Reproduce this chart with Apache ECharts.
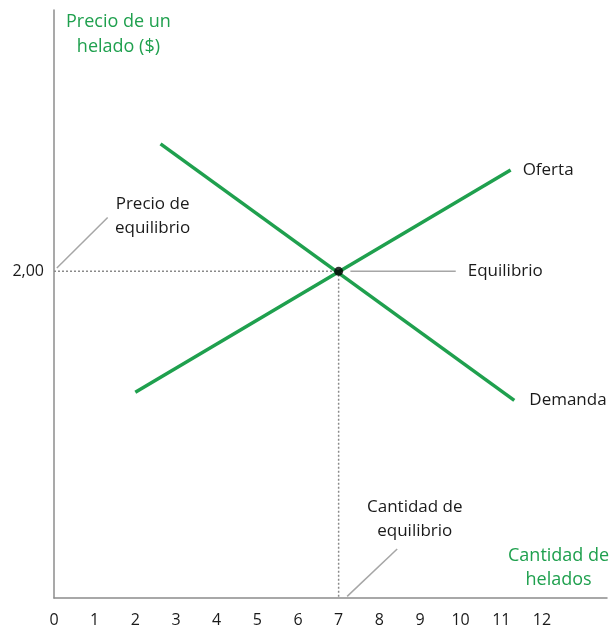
<!DOCTYPE html>
<html>
<head>
<meta charset="utf-8">
<script src="https://cdn.jsdelivr.net/npm/echarts@6/dist/echarts.min.js"></script>
<style>
  html, body { margin: 0; padding: 0; background: #fff; }
  #container { width: 610px; height: 629px; }
</style>
</head>
<body>
<div id="container"></div>
<script>
var dom = document.getElementById("container");
var myChart = echarts.init(dom);

// datos
var xTicks = [0, 1, 2, 3, 4, 5, 6, 7, 8, 9, 10, 11, 12];
var oferta = [[2.0, 1.26], [11.23, 2.62]];
var demanda = [[2.62, 2.78], [11.32, 1.21]];
var equilibrio = [7, 2];
var precioLabel = "2,00";

// líneas guía de las anotaciones
var guiaPrecio = [[0.07, 2.02], [1.32, 2.33]];
var guiaEquilibrio = [[7.29, 2], [9.88, 2]];
var guiaCantidad = [[7.21, 0.01], [8.44, 0.3]];

var verde = "#1fa04e";
var gris = "#a6a6a6";
var fuente = "Open Sans";

var option = {
  animation: false,
  grid: { left: 54, right: 0, top: 10, bottom: 31 },
  xAxis: {
    type: "value",
    min: 0,
    max: 13.6,
    interval: 1,
    splitLine: { show: false },
    axisTick: { show: false },
    axisLine: { lineStyle: { color: "#8c8c8c", width: 1.5 } },
    axisLabel: {
      color: "#1a1a1a",
      fontFamily: fuente,
      fontSize: 16,
      margin: 14,
      formatter: function (v) {
        return xTicks.indexOf(v) >= 0 ? String(v) : "";
      }
    }
  },
  yAxis: {
    type: "value",
    min: 0,
    max: 3.6,
    interval: 1,
    splitLine: { show: false },
    axisTick: { show: false },
    axisLine: { show: true, lineStyle: { color: "#8c8c8c", width: 1.5 } },
    axisLabel: {
      color: "#1a1a1a",
      fontFamily: fuente,
      fontSize: 16,
      margin: 10,
      formatter: function (v) {
        return v === equilibrio[1] ? precioLabel : "";
      }
    }
  },
  series: [
    {
      name: "punteada",
      type: "line",
      data: [[0, equilibrio[1]], equilibrio, [equilibrio[0], 0]],
      symbol: "none",
      lineStyle: { color: "#8a8a8a", width: 1.5, type: [2, 2] },
      z: 1
    },
    {
      name: "Oferta",
      type: "line",
      data: oferta,
      symbol: "none",
      lineStyle: { color: verde, width: 3.5 },
      endLabel: {
        show: true,
        formatter: "Oferta",
        color: "#1a1a1a",
        fontFamily: fuente,
        fontSize: 17,
        distance: 12
      },
      z: 3
    },
    {
      name: "Demanda",
      type: "line",
      data: demanda,
      symbol: "none",
      lineStyle: { color: verde, width: 3.5 },
      endLabel: {
        show: true,
        formatter: "Demanda",
        color: "#1a1a1a",
        fontFamily: fuente,
        fontSize: 17,
        distance: 15
      },
      z: 3
    },
    {
      name: "guiaPrecio",
      type: "line",
      data: guiaPrecio,
      symbol: "none",
      lineStyle: { color: gris, width: 1.5 }
    },
    {
      name: "guiaEquilibrio",
      type: "line",
      data: guiaEquilibrio,
      symbol: "none",
      lineStyle: { color: gris, width: 1.5 },
      endLabel: {
        show: true,
        formatter: "Equilibrio",
        color: "#1a1a1a",
        fontFamily: fuente,
        fontSize: 17,
        distance: 12
      }
    },
    {
      name: "guiaCantidad",
      type: "line",
      data: guiaCantidad,
      symbol: "none",
      lineStyle: { color: gris, width: 1.5 }
    },
    {
      name: "punto",
      type: "scatter",
      data: [equilibrio],
      symbolSize: 9,
      itemStyle: { color: "#000" },
      z: 5
    }
  ],
  graphic: [
    {
      type: "text",
      left: 66,
      top: 9,
      style: {
        text: "Precio de un\nhelado ($)",
        fill: verde,
        font: "18px 'Open Sans'",
        textAlign: "center",
        lineHeight: 25
      }
    },
    {
      type: "text",
      left: 115,
      top: 192,
      style: {
        text: "Precio de\nequilibrio",
        fill: "#1a1a1a",
        font: "17px 'Open Sans'",
        textAlign: "center",
        lineHeight: 24
      }
    },
    {
      type: "text",
      left: 367,
      top: 495,
      style: {
        text: "Cantidad de\nequilibrio",
        fill: "#1a1a1a",
        font: "17px 'Open Sans'",
        textAlign: "center",
        lineHeight: 24
      }
    },
    {
      type: "text",
      left: 508,
      top: 544,
      style: {
        text: "Cantidad de\nhelados",
        fill: verde,
        font: "18px 'Open Sans'",
        textAlign: "center",
        lineHeight: 24
      }
    }
  ]
};

if (option && typeof option === "object") {
  myChart.setOption(option, true);
}
</script>
</body>
</html>
